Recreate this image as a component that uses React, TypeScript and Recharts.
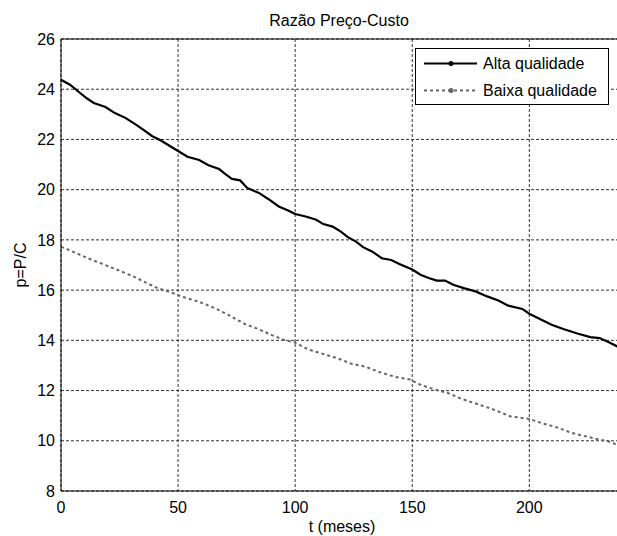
import {
  CartesianGrid,
  Legend,
  Line,
  LineChart,
  ReferenceLine,
  XAxis,
  YAxis,
} from 'recharts'

const FONT = '"Liberation Sans", Arial, sans-serif'

// months -> price/cost ratio
const altaT = [
  0, 4, 7.5, 11, 14, 19, 23, 27.5, 32, 36, 39, 42.5, 47, 50, 54, 59, 63, 67.5, 70.5, 73, 76.5, 79.5,
  84.5, 88.5, 93, 97, 100, 104.5, 109, 112, 116, 119.5, 122.5, 126, 129, 133, 137, 141, 144.5, 150,
  153.5, 157, 160.5, 164, 167.5, 172, 177, 182, 187, 191, 197, 200, 204.5, 209.5, 214.5, 220.5, 226,
  230, 234, 237.5, 240,
]
const altaP = [
  24.38, 24.17, 23.9, 23.64, 23.45, 23.29, 23.05, 22.86, 22.59, 22.33, 22.13, 21.97, 21.71, 21.54,
  21.31, 21.18, 20.97, 20.82, 20.6, 20.43, 20.37, 20.07, 19.87, 19.63, 19.33, 19.17, 19.03, 18.93,
  18.8, 18.63, 18.53, 18.33, 18.11, 17.93, 17.71, 17.53, 17.27, 17.2, 17.04, 16.82, 16.61, 16.48,
  16.38, 16.38, 16.21, 16.08, 15.95, 15.75, 15.58, 15.38, 15.25, 15.06, 14.85, 14.62, 14.45, 14.27,
  14.13, 14.09, 13.92, 13.76, 13.68,
]

const baixaT = [
  0, 2, 7.5, 12.5, 18, 24, 31, 36, 41.5, 47, 52, 58.5, 66, 71.5, 78.5, 84.5, 90, 95.5, 100, 105.5,
  111.5, 118.5, 124, 130, 135.5, 142.5, 149, 154, 160, 165, 171, 178.5, 184, 192, 200, 206, 212,
  217.5, 223, 229, 234, 237.5, 240,
]
const baixaP = [
  17.72, 17.66, 17.43, 17.23, 17.03, 16.81, 16.54, 16.31, 16.07, 15.91, 15.73, 15.55, 15.27, 15.01,
  14.65, 14.44, 14.21, 14.01, 13.91, 13.64, 13.47, 13.27, 13.07, 12.95, 12.75, 12.55, 12.44, 12.21,
  12.03, 11.91, 11.67, 11.44, 11.27, 10.97, 10.87, 10.68, 10.53, 10.33, 10.2, 10.07, 9.97, 9.84, 9.78,
]

const xTicks = [0, 50, 100, 150, 200]
const yTicks = [8, 10, 12, 14, 16, 18, 20, 22, 24, 26]

const alta = altaT.map((t, i) => ({ t, p: altaP[i] }))
const baixa = baixaT.map((t, i) => ({ t, p: baixaP[i] }))

const legendRows = [
  { name: 'Alta qualidade', color: '#000', dash: undefined as string | undefined },
  { name: 'Baixa qualidade', color: '#666', dash: '3 3' },
]

function LegendBox() {
  return (
    <svg width={194} height={57} style={{ display: 'block' }}>
      <rect x={0.5} y={0.5} width={193} height={56} fill="#fff" stroke="#000" />
      {legendRows.map((r, i) => {
        const y = 15.5 + i * 27
        return (
          <g key={r.name}>
            <line x1={9} x2={62} y1={y} y2={y} stroke={r.color} strokeWidth={2} strokeDasharray={r.dash} />
            <circle cx={36} cy={y} r={2.5} fill={r.color} />
            <text x={68} y={y + 5.5} fontSize={16} fontFamily={FONT} fill="#000">
              {r.name}
            </text>
          </g>
        )
      })}
    </svg>
  )
}

export default function App() {
  return (
    <div
      style={{
        position: 'fixed',
        left: 0,
        top: 0,
        width: 617,
        height: 536,
        overflow: 'hidden',
        background: '#fff',
      }}
    >
      <LineChart width={640} height={536} margin={{ top: 39, right: 17, bottom: 0, left: 0 }}>
        <text x={339} y={26} textAnchor="middle" fontSize={16} fontFamily={FONT} fill="#000">
          Razão Preço-Custo
        </text>
        <CartesianGrid stroke="#333" strokeDasharray="3 2" />
        <XAxis
          type="number"
          dataKey="t"
          domain={[0, 240]}
          ticks={xTicks}
          height={45}
          tickSize={0}
          tickMargin={11}
          stroke="#000"
          tick={{ fontSize: 16, fill: '#000', fontFamily: FONT }}
          label={{
            value: 't (meses)',
            position: 'insideBottom',
            offset: 4,
            fill: '#000',
            style: { fontSize: 16, fill: '#000', fontFamily: FONT },
          }}
        />
        <YAxis
          type="number"
          domain={[8, 26]}
          ticks={yTicks}
          width={61}
          tickSize={0}
          tickMargin={6}
          stroke="#000"
          tick={{ fontSize: 16, fill: '#000', fontFamily: FONT }}
          label={{
            value: 'p=P/C',
            angle: -90,
            position: 'insideLeft',
            offset: 20,
            fill: '#000',
            style: { fontSize: 16, fill: '#000', fontFamily: FONT, textAnchor: 'middle' },
          }}
        />
        <ReferenceLine y={26} stroke="#000" />
        <ReferenceLine x={240} stroke="#000" />
        <Line
          data={baixa}
          dataKey="p"
          name="Baixa qualidade"
          type="linear"
          stroke="#666"
          strokeWidth={2}
          strokeDasharray="3 3"
          dot={false}
          isAnimationActive={false}
        />
        <Line
          data={alta}
          dataKey="p"
          name="Alta qualidade"
          type="linear"
          stroke="#000"
          strokeWidth={2.2}
          dot={false}
          isAnimationActive={false}
        />
        <Legend
          layout="vertical"
          align="center"
          verticalAlign="middle"
          wrapperStyle={{ position: 'absolute', left: 415, top: 48, width: 194, height: 57 }}
          content={() => <LegendBox />}
        />
      </LineChart>
    </div>
  )
}
